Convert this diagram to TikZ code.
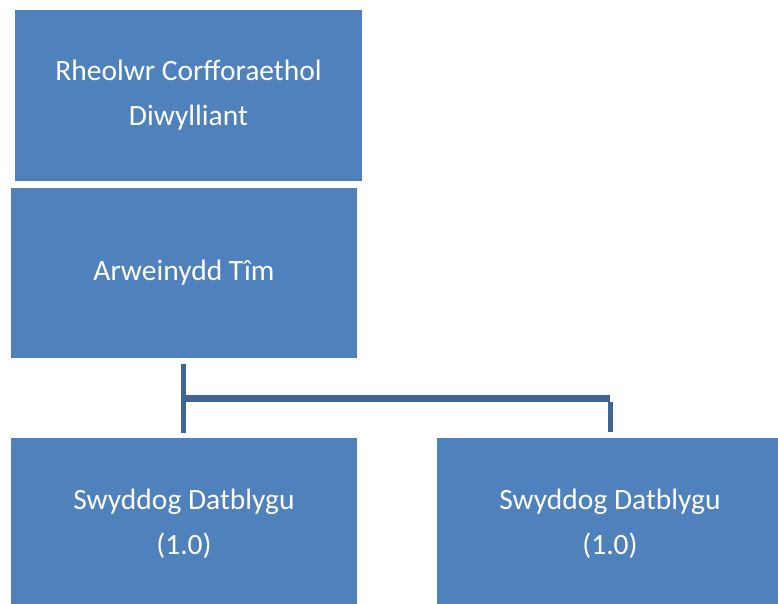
\documentclass[tikz,border=0pt]{standalone}
\usepackage{fontspec}
\setmainfont{Carlito}
\definecolor{boxblue}{HTML}{4F81BD}
\definecolor{lineblue}{HTML}{3E6595}
\begin{document}
\begin{tikzpicture}[x=1pt,y=-1pt,
  orgbox/.style={fill=boxblue,draw=none,inner sep=0pt,text=white,align=center,
    font=\fontsize{29.5}{45}\selectfont},
  vconn/.style={draw=lineblue,line width=5pt},
  hconn/.style={draw=lineblue,line width=7pt}]
\useasboundingbox (0,0) rectangle (778,603);
\node[orgbox,minimum width=347pt,minimum height=171pt] (b1) at (188.5,95) {Rheolwr Corfforaethol\\Diwylliant};
\node[orgbox,minimum width=346pt,minimum height=170pt] (b2) at (184,273) {Arweinydd Tîm};
\node[orgbox,minimum width=346pt,minimum height=171pt] (b3) at (184,523.5) {Swyddog Datblygu\\(1.0)};
\node[orgbox,minimum width=346pt,minimum height=171pt] (b4) at (610,523.5) {Swyddog Datblygu\\(1.0)};
\coordinate (t1) at (183.5,364);
\coordinate (e1) at (183.5,433);
\coordinate (h1) at (183.5,398);
\coordinate (h2) at (610,398);
\coordinate (e2) at (610,432);
\draw[vconn] (t1) -- (e1);
\draw[hconn] (h1) -- (h2);
\draw[vconn] ([yshift=-3.5pt]h2) -- (e2);
\end{tikzpicture}
\end{document}
